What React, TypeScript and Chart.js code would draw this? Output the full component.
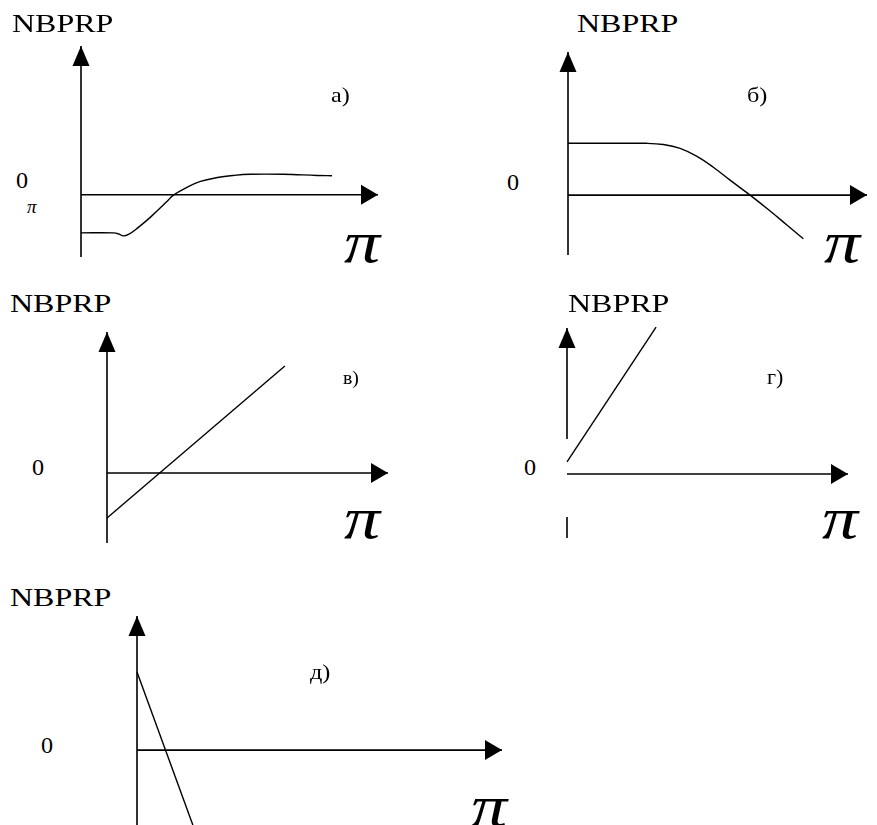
import React, { useEffect, useRef } from "react";
import { Chart, registerables } from "chart.js";

Chart.register(...registerables);

// ---------- text ----------
const yAxisTitle = "NBPRP";
const zeroLabel = "0";
const xAxisTitle = "π";
const panelLetters = ["а)", "б)", "в)", "г)", "д)"];

// ---------- data (axis units: origin at 0,0; x axis runs 0..xMax) ----------
const xMaxes = [10, 10, 10, 10, 10];
const yMaxes = [5.0, 4.78, 5.02, 5.2, 3.67];
const yMins = [-2.09, -2.0, -2.49, -2.28, -2.05];

// а) S-shaped curve
const aX = [0, 1.1, 1.28, 1.42, 1.6, 1.9, 2.34, 2.9, 3.1, 3.57, 4.02, 4.59, 5.13, 5.7, 6.81, 7.95, 8.45];
const aY = [-1.28, -1.28, -1.32, -1.38, -1.33, -1.12, -0.75, -0.22, -0.02, 0.25, 0.45, 0.58, 0.65, 0.69, 0.69, 0.65, 0.64];
// б) plateau then falling
const bX = [0, 1.4, 2.63, 3.19, 3.75, 4.3, 4.86, 5.42, 6.09, 6.76, 7.31, 7.87];
const bY = [1.73, 1.73, 1.73, 1.69, 1.56, 1.3, 0.93, 0.5, 0, -0.53, -0.99, -1.46];
// в) rising straight line
const cX = [0, 6.33];
const cY = [-1.6, 3.81];
// г) steep rising line
const dX = [0, 3.17];
const dY = [0.43, 5.23];
// д) steep falling line
const eX = [0, 1.53];
const eY = [2.14, -2.05];

const seriesX = [aX, bX, cX, dX, eX];
const seriesY = [aY, bY, cY, dY, eY];
const curveTension = [0.4, 0.4, 0, 0, 0];

// г) vertical axis is interrupted between these two values
const yAxisGaps: (number[] | null)[] = [null, null, null, [1.25, -1.53], null];

// ---------- layout (page pixels) ----------
const W = 877;
const H = 825;
const PAD = 14;
// [origin x, x-axis tip x, y-axis tip y, y-axis bottom y]
const panelRects = [
  [81, 378, 46, 257],
  [568, 867, 52, 255],
  [107, 388, 332, 543],
  [567, 848, 328, 538],
  [137, 502, 616, 825],
];
// [left, baseline]
const titlePos = [[12, 33], [577, 33], [10, 313], [568, 313], [10, 607]];
const zeroPos = [[16, 188], [507, 190], [32, 475], [524, 475], [41, 753]];
// [left, baseline, size]
const letterPos = [[331, 102, 22], [747, 102, 22], [343, 384, 18], [767, 384, 20], [310, 679, 22]];
const piPos = [[344, 262], [824, 262], [344, 538], [822, 538], [471, 826]];

const FONT = '"Liberation Serif", "Times New Roman", serif';

const arrowPlugin = {
  id: "axisArrows",
  afterDatasetsDraw(chart: any) {
    const { ctx, scales } = chart;
    const xs = scales.x;
    const ys = scales.y;
    const x0 = xs.getPixelForValue(0);
    const y0 = ys.getPixelForValue(0);
    const xt = xs.getPixelForValue(xs.max);
    const yt = ys.getPixelForValue(ys.max);
    ctx.save();
    ctx.fillStyle = "#000";
    // right arrow
    ctx.beginPath();
    ctx.moveTo(xt, y0);
    ctx.lineTo(xt - 17, y0 - 10);
    ctx.lineTo(xt - 17, y0 + 10);
    ctx.closePath();
    ctx.fill();
    // up arrow
    ctx.beginPath();
    ctx.moveTo(x0, yt);
    ctx.lineTo(x0 - 8.5, yt + 20);
    ctx.lineTo(x0 + 8.5, yt + 20);
    ctx.closePath();
    ctx.fill();
    ctx.restore();
  },
};

function Panel({ i }: { i: number }) {
  const ref = useRef<HTMLCanvasElement | null>(null);
  const [ox, xt, yt, yb] = panelRects[i];
  const w = xt - ox + 2 * PAD;
  const h = yb - yt + 2 * PAD;

  useEffect(() => {
    if (!ref.current) return;
    const xMax = xMaxes[i];
    const yMax = yMaxes[i];
    const yMin = yMins[i];
    const axisStyle = {
      borderColor: "#000",
      borderWidth: 1.6,
      pointRadius: 0,
      tension: 0,
      clip: false as any,
    };
    const datasets: any[] = [];
    datasets.push({ ...axisStyle, data: [{ x: 0, y: 0 }, { x: xMax, y: 0 }] });
    const gap = yAxisGaps[i];
    if (gap) {
      datasets.push({ ...axisStyle, data: [{ x: 0, y: yMax }, { x: 0, y: gap[0] }] });
      datasets.push({ ...axisStyle, data: [{ x: 0, y: gap[1] }, { x: 0, y: yMin }] });
    } else {
      datasets.push({ ...axisStyle, data: [{ x: 0, y: yMax }, { x: 0, y: yMin }] });
    }
    datasets.push({
      borderColor: "#000",
      borderWidth: 1.4,
      pointRadius: 0,
      tension: curveTension[i],
      clip: false,
      data: seriesX[i].map((x, k) => ({ x, y: seriesY[i][k] })),
    });

    const chart = new Chart(ref.current, {
      type: "line",
      data: { datasets },
      options: {
        animation: false,
        responsive: false,
        maintainAspectRatio: false,
        devicePixelRatio: 1,
        events: [],
        layout: { padding: PAD },
        plugins: { legend: { display: false }, tooltip: { enabled: false } },
        scales: {
          x: { type: "linear", min: 0, max: xMax, display: false },
          y: { type: "linear", min: yMin, max: yMax, display: false },
        },
      },
      plugins: [arrowPlugin],
    } as any);
    return () => chart.destroy();
  }, [i]);

  return (
    <canvas
      ref={ref}
      width={w}
      height={h}
      style={{ position: "absolute", left: ox - PAD, top: yt - PAD, width: w, height: h }}
    />
  );
}

function Label({
  text,
  left,
  baseline,
  size,
  italic,
  sx,
}: {
  text: string;
  left: number;
  baseline: number;
  size: number;
  italic?: boolean;
  sx?: number;
}) {
  return (
    <div
      style={{
        position: "absolute",
        left,
        top: baseline - 0.8375 * size,
        fontFamily: FONT,
        fontSize: size,
        lineHeight: `${size}px`,
        fontStyle: italic ? "italic" : "normal",
        whiteSpace: "nowrap",
        color: "#000",
        transform: `scaleX(${sx ?? 1})`,
        transformOrigin: "left top",
      }}
    >
      {text}
    </div>
  );
}

export default function App() {
  return (
    <div
      style={{
        position: "absolute",
        left: 0,
        top: 0,
        width: W,
        height: H,
        overflow: "hidden",
        background: "#fff",
      }}
    >
      {panelRects.map((_, i) => (
        <Panel key={"p" + i} i={i} />
      ))}
      {panelRects.map((_, i) => (
        <React.Fragment key={"l" + i}>
          <Label text={yAxisTitle} left={titlePos[i][0]} baseline={titlePos[i][1]} size={26} sx={1.23} />
          <Label text={zeroLabel} left={zeroPos[i][0]} baseline={zeroPos[i][1]} size={23} sx={1.05} />
          <Label text={panelLetters[i]} left={letterPos[i][0]} baseline={letterPos[i][1]} size={letterPos[i][2]} sx={1.1} />
          <Label text={xAxisTitle} left={piPos[i][0]} baseline={piPos[i][1]} size={60} italic sx={1.2} />
        </React.Fragment>
      ))}
      <Label text={xAxisTitle} left={27} baseline={213} size={19} italic />
    </div>
  );
}
